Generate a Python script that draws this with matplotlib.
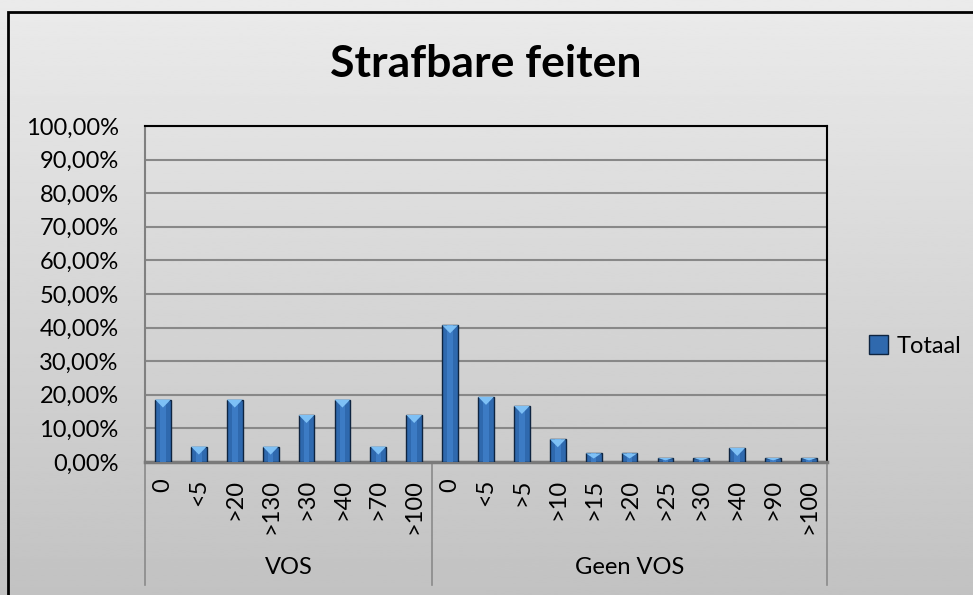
import numpy as np
import matplotlib
matplotlib.use("Agg")
import matplotlib.pyplot as plt
from matplotlib.patches import Rectangle, Patch
import matplotlib.transforms as mtransforms

plt.rcParams['font.family'] = ['Lato', 'DejaVu Sans']

# === DATA ===
TITLE = "Strafbare feiten"
SERIES = "Totaal"
groups = ["VOS", "Geen VOS"]
vos_labels = ["0", "<5", ">20", ">130", ">30", ">40", ">70", ">100"]
vos_values = [18.6, 4.6, 18.6, 4.6, 14.0, 18.6, 4.6, 14.0]
geen_labels = ["0", "<5", ">5", ">10", ">15", ">20", ">25", ">30", ">40", ">90", ">100"]
geen_values = [40.7, 19.4, 16.7, 6.8, 2.6, 2.6, 1.2, 1.2, 4.2, 1.2, 1.2]
y_ticks = [0, 10, 20, 30, 40, 50, 60, 70, 80, 90, 100]

labels = vos_labels + geen_labels
values = vos_values + geen_values
x = np.arange(len(values))

# === FIGUUR ===
fig = plt.figure(figsize=(9.73, 5.95), dpi=100)

# achtergrond met verloop
bg = fig.add_axes([0, 0, 1, 1], zorder=-10)
grad = np.linspace(0.92, 0.76, 256).reshape(-1, 1)
bg.imshow(grad, aspect='auto', cmap='gray', vmin=0, vmax=1, extent=[0, 1, 0, 1])
bg.axis('off')
fig.patches.append(Rectangle((8 / 973, -0.1), 1.2, 1 - 12 / 595 + 0.1, transform=fig.transFigure,
                             fill=False, edgecolor='black', linewidth=2))

ax = fig.add_axes([145 / 973, (595 - 462) / 595, 682 / 973, 336 / 595])
ax.patch.set_alpha(0)

w = 0.44
ax.bar(x, values, width=w, color='#2F69AE', edgecolor='#0E2440', linewidth=1.0, zorder=3)
ax.bar(x, values, width=w * 0.35, color='#3C7BC4', linewidth=0, zorder=3)
# lichtblauwe driehoek bovenop elke balk
for xi, v in zip(x, values):
    d = min(2.4, v * 0.6)
    ax.fill([xi - w / 2, xi + w / 2, xi], [v, v, v - d], color='#7EC0F5', zorder=4, linewidth=0)

ax.set_xlim(-0.5, len(values) - 0.5)
ax.set_ylim(0, 100)
ax.set_yticks(y_ticks)
ax.set_yticklabels([f"{t:.2f}%".replace('.', ',') for t in y_ticks], fontsize=17)
ax.tick_params(axis='y', length=0, pad=19)
ax.set_xticks(x)
ax.set_xticklabels(labels, rotation=90, fontsize=17, va='top')
ax.tick_params(axis='x', length=0, pad=12)
ax.yaxis.grid(True, color='#888888', linewidth=1.5, zorder=0)
ax.set_axisbelow(True)

for s in ['top', 'right']:
    ax.spines[s].set_color('black')
    ax.spines[s].set_linewidth(1.5)
ax.spines['left'].set_color('#808080')
ax.spines['left'].set_linewidth(1.5)
ax.spines['bottom'].set_color('#7A7A7A')
ax.spines['bottom'].set_linewidth(2.5)

# groepslabels en scheidingslijnen
trans = mtransforms.blended_transform_factory(ax.transData, ax.transAxes)
n_vos = len(vos_labels)
bounds = [-0.5, n_vos - 0.5, len(values) - 0.5]
for b in bounds:
    ax.plot([b, b], [0, -0.366], color='#8A8A8A', linewidth=1.2, transform=trans, clip_on=False)
centers = [(bounds[0] + bounds[1]) / 2, (bounds[1] + bounds[2]) / 2]
for c, g in zip(centers, groups):
    ax.text(c, -0.315, g, transform=trans, ha='center', va='center', fontsize=17)

ax.set_title(TITLE, fontsize=32, fontweight='bold', pad=35)

ax.legend([Patch(facecolor='#2F69AE', edgecolor='#0E2440')], [SERIES], loc='center left',
          bbox_to_anchor=(1.062, 0.345), frameon=False, fontsize=17, borderpad=0,
          borderaxespad=0, handlelength=0.8, handleheight=0.8, handletextpad=0.35)

fig.savefig("out.png", dpi=100)
